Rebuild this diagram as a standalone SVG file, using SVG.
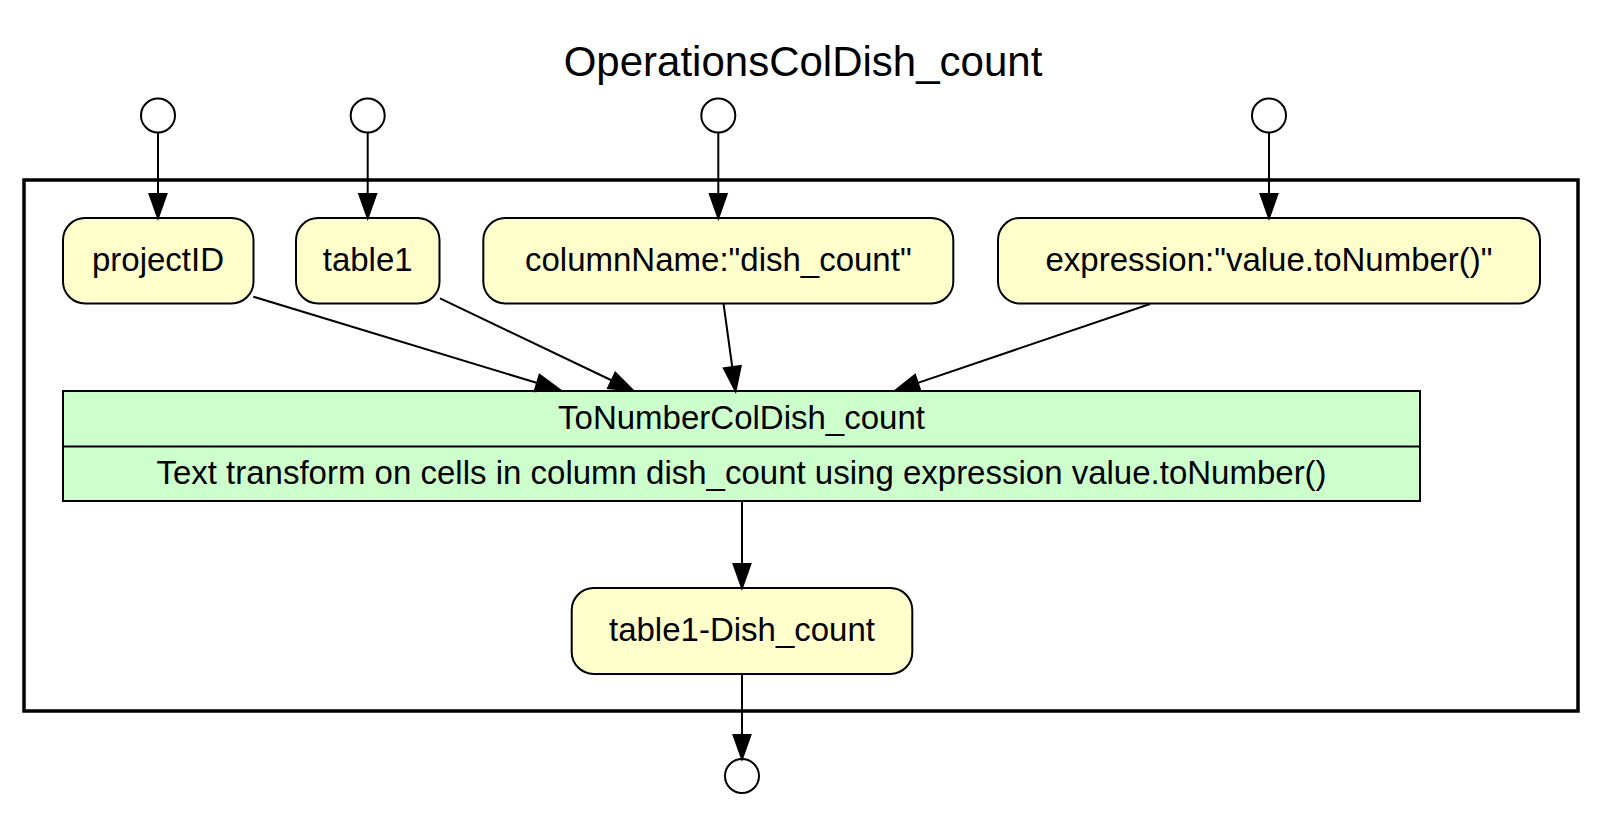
<svg xmlns="http://www.w3.org/2000/svg" width="1618" height="834" viewBox="0 0 1618 834">
<style>
text{font-family:"Liberation Sans",Arial,Helvetica,sans-serif;fill:#000;}
.t{font-size:33px;text-anchor:middle;}
.title{font-size:42px;text-anchor:middle;}
.node{fill:#FFFFCC;stroke:#000;stroke-width:2;}
.op{fill:#CCFFCC;stroke:#000;stroke-width:2;}
.port{fill:#fff;stroke:#000;stroke-width:2;}
.edge{fill:none;stroke:#000;stroke-width:2;marker-end:url(#arrow);}
.cluster{fill:none;stroke:#000;stroke-width:3.5;}
</style>
<defs>
<marker id="arrow" markerUnits="userSpaceOnUse" markerWidth="30" markerHeight="22" refX="22" refY="10.5" orient="auto" overflow="visible">
<polygon points="2,2 26,10.5 2,19" fill="#000" stroke="#000" stroke-width="2"/>
</marker>
</defs>
<rect width="1618" height="834" fill="#fff"/>
<text class="title" x="803" y="76">OperationsColDish_count</text>
<g id="cluster">
<rect class="cluster" x="24" y="180" width="1554" height="531"/>
</g>
<g id="in_projectID"><circle class="port" cx="158" cy="115.5" r="17"/></g>
<g id="in_table1"><circle class="port" cx="367.7" cy="115.5" r="17"/></g>
<g id="in_columnName"><circle class="port" cx="718.3" cy="115.5" r="17"/></g>
<g id="in_expression"><circle class="port" cx="1269" cy="115.5" r="17"/></g>
<g id="projectID">
<rect class="node" x="63" y="218" width="190.5" height="85.5" rx="22"/>
<text class="t" x="158" y="270.5">projectID</text>
</g>
<g id="table1">
<rect class="node" x="296" y="218" width="143.5" height="85.5" rx="22"/>
<text class="t" x="367.7" y="270.5">table1</text>
</g>
<g id="columnName">
<rect class="node" x="483.3" y="218" width="470" height="85.5" rx="22"/>
<text class="t" x="718.3" y="270.5">columnName:"dish_count"</text>
</g>
<g id="expression">
<rect class="node" x="998" y="218" width="542" height="85.5" rx="22"/>
<text class="t" x="1269" y="270.5">expression:"value.toNumber()"</text>
</g>
<g id="ToNumberColDish_count">
<rect class="op" x="63" y="391" width="1357" height="110"/>
<line x1="63" y1="446.5" x2="1420" y2="446.5" stroke="#000" stroke-width="2"/>
<text class="t" x="741.5" y="429">ToNumberColDish_count</text>
<text class="t" x="741.5" y="484">Text transform on cells in column dish_count using expression value.toNumber()</text>
</g>
<g id="table1-Dish_count">
<rect class="node" x="571.7" y="588" width="340.6" height="86" rx="22"/>
<text class="t" x="742" y="641">table1-Dish_count</text>
</g>
<g id="out"><circle class="port" cx="742" cy="776" r="17"/></g>
<g id="connectors">
<path class="edge" d="M158,132.5 L158,214"/>
<path class="edge" d="M367.7,132.5 L367.7,214"/>
<path class="edge" d="M718.3,132.5 L718.3,214"/>
<path class="edge" d="M1269,132.5 L1269,214"/>
<path class="edge" d="M253.3,296.7 L556.2,388.8"/>
<path class="edge" d="M440,298.3 L629.7,389"/>
<path class="edge" d="M723.5,303.5 L735,387"/>
<path class="edge" d="M1150,304 L898.8,389.4"/>
<path class="edge" d="M742,501 L742,584"/>
<path class="edge" d="M742,674 L742,755"/>
</g>
</svg>
